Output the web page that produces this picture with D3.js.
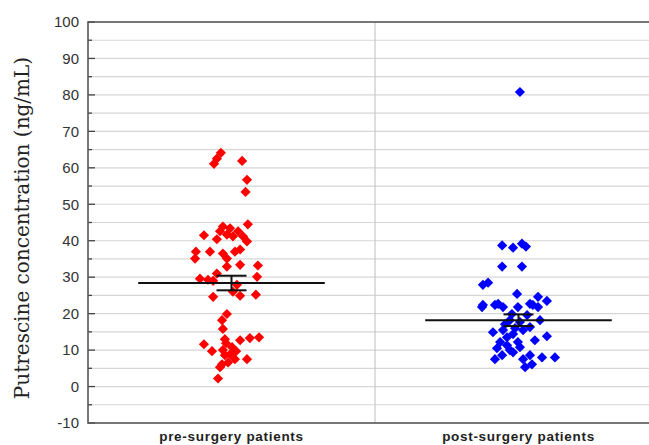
<!DOCTYPE html>
<html><head><meta charset="utf-8">
<script src="https://cdn.jsdelivr.net/npm/d3@7"></script>
<style>body{margin:0;background:#fff}svg{display:block}</style>
</head><body><svg id="c" width="649" height="445"></svg>
<script>
const categories = ["pre-surgery patients", "post-surgery patients"];
const yTicks = [-10,0,10,20,30,40,50,60,70,80,90,100];
// values (ng/mL) and horizontal jitter (category units, 0..2)
const preValues = [64.1,62.5,61.1,61.9,56.7,53.4,44.5,43.9,43.4,42.6,42.6,41.2,41.5,40.4,41.7,41.2,39.8,37.0,37.0,36.5,37.0,37.6,35.1,35.1,33.2,33.4,32.9,31.0,30.1,29.6,29.3,29.0,27.9,26.0,24.9,24.6,25.2,19.9,18.2,15.8,13.0,12.7,13.3,13.5,11.6,9.7,10.0,8.8,7.5,7.5,6.6,5.3,2.2,8.6,10.8,6.1,11.9,9.7];
const preJitter = [0.463,0.449,0.439,0.537,0.554,0.549,0.557,0.470,0.495,0.523,0.460,0.540,0.404,0.449,0.484,0.505,0.554,0.376,0.425,0.470,0.512,0.530,0.484,0.373,0.592,0.530,0.484,0.449,0.589,0.390,0.418,0.436,0.519,0.505,0.530,0.436,0.585,0.484,0.467,0.470,0.477,0.530,0.564,0.596,0.404,0.432,0.470,0.495,0.512,0.554,0.488,0.460,0.453,0.477,0.502,0.467,0.481,0.516];
const postValues = [80.8,38.7,38.1,39.2,38.4,32.9,32.9,27.9,28.5,25.4,22.4,22.7,22.7,24.6,23.5,21.8,21.8,22.4,21.8,19.9,22.4,21.8,19.6,18.2,15.5,14.4,15.5,13.8,12.7,11.3,10.8,9.4,8.6,7.5,7.5,8.6,8.0,8.0,5.3,6.1,12.2,13.5,12.2,17.1,17.7,16.3,10.0,10.5,16.0,18.2,14.9];
const postJitter = [1.505,1.443,1.481,1.512,1.526,1.443,1.512,1.376,1.394,1.495,1.376,1.429,1.540,1.568,1.599,1.498,1.373,1.418,1.446,1.477,1.550,1.568,1.530,1.470,1.446,1.481,1.516,1.599,1.557,1.460,1.505,1.481,1.443,1.418,1.516,1.540,1.582,1.627,1.523,1.547,1.498,1.460,1.436,1.453,1.505,1.540,1.470,1.425,1.488,1.575,1.411];
const means = [28.4, 18.2];
const sems = [2.0, 1.6];

const svg = d3.select("#c");
const L = 88, T = 22, R = 662, B = 423;
const y = d3.scaleLinear().domain([-10, 100]).range([B, T]);
const x = d3.scaleLinear().domain([0, 2]).range([L, R]);

// grid every 5
const grid = d3.range(-5, 100, 5);
svg.append("g").selectAll("line").data(grid).join("line")
  .attr("x1", L).attr("x2", R).attr("y1", d => y(d)).attr("y2", d => y(d))
  .attr("stroke", "#d6d6d6").attr("stroke-width", 1.2);
svg.append("line").attr("x1", x(1)).attr("x2", x(1)).attr("y1", T).attr("y2", B)
  .attr("stroke", "#c8c8c8").attr("stroke-width", 1.2);

// y axis (ticks inward)
const yAxis = d3.axisLeft(y).tickValues(yTicks).tickSize(0).tickPadding(9).tickFormat(d => String(d));
const ga = svg.append("g").attr("transform", `translate(${L},0)`).call(yAxis);
ga.select(".domain").remove();
ga.selectAll("text").attr("font-family", "Liberation Sans, Arial, sans-serif").attr("font-size", 15).attr("fill", "#333");
svg.append("g").selectAll("line").data(yTicks).join("line")
  .attr("x1", L).attr("x2", L + 7).attr("y1", d => y(d)).attr("y2", d => y(d))
  .attr("stroke", "#444").attr("stroke-width", 1.3);
svg.append("g").selectAll("line").data(d3.range(-5, 100, 10)).join("line")
  .attr("x1", L).attr("x2", L + 4).attr("y1", d => y(d)).attr("y2", d => y(d))
  .attr("stroke", "#444").attr("stroke-width", 1.3);

// frame
svg.append("rect").attr("x", L).attr("y", T).attr("width", R - L).attr("height", B - T)
  .attr("fill", "none").attr("stroke", "#555").attr("stroke-width", 1.6);

// points
const sym = d3.symbol().type(d3.symbolSquare).size(52);
function pts(vals, jit, color) {
  svg.append("g").selectAll("path").data(vals).join("path")
    .attr("d", sym)
    .attr("transform", (d, i) => `translate(${x(jit[i])},${y(d)}) rotate(45)`)
    .attr("fill", color);
}
pts(preValues, preJitter, "#ff0000");
pts(postValues, postJitter, "#0000ff");

// mean and SEM
const centers = [0.5, 1.5];
const mg = svg.append("g").attr("stroke", "#111").attr("stroke-width", 2);
means.forEach((m, i) => {
  const c = x(centers[i]);
  mg.append("line").attr("x1", x(centers[i] - 0.325)).attr("x2", x(centers[i] + 0.325)).attr("y1", y(m)).attr("y2", y(m));
  mg.append("line").attr("x1", c).attr("x2", c).attr("y1", y(m - sems[i])).attr("y2", y(m + sems[i]));
  [m - sems[i], m + sems[i]].forEach(v => {
    mg.append("line").attr("x1", c - 15).attr("x2", c + 15).attr("y1", y(v)).attr("y2", y(v));
  });
});

// category labels
svg.append("g").selectAll("text").data(categories).join("text")
  .attr("x", (d, i) => x(centers[i])).attr("y", 441)
  .attr("text-anchor", "middle").attr("font-family", "Liberation Sans, Arial, sans-serif")
  .attr("font-weight", "bold").attr("font-size", 13.5).attr("letter-spacing", 0.7).attr("fill", "#222")
  .text(d => d);

// y label
svg.append("text").attr("transform", "translate(29,228) rotate(-90)")
  .attr("text-anchor", "middle").attr("font-family", "DejaVu Serif, serif")
  .attr("font-size", 20).attr("fill", "#222")
  .text("Putrescine concentration (ng/mL)");
</script></body></html>
